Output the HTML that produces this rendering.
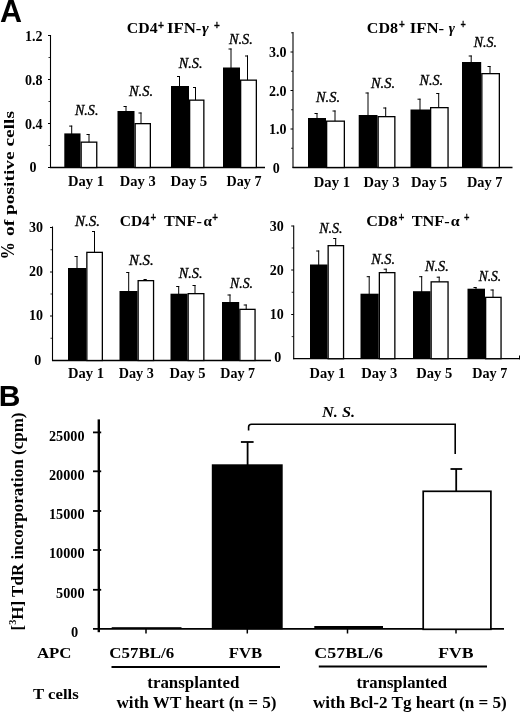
<!DOCTYPE html>
<html lang="en"><head><meta charset="utf-8"><title>Figure</title>
<style>html,body{margin:0;padding:0;background:#fff}body{width:520px;height:713px;overflow:hidden}svg{display:block;filter:grayscale(1)}</style>
</head><body>
<svg width="520" height="713" viewBox="0 0 520 713" font-family='"Liberation Serif", serif' fill="#000">
<rect width="520" height="713" fill="#fff"/>
<text x="0" y="21.8" font-family='"Liberation Sans", sans-serif' font-size="30.5" font-weight="bold">A</text>
<text x="-1.3" y="406" font-family='"Liberation Sans", sans-serif' font-size="30" font-weight="bold">B</text>
<text transform="translate(14.2,259.6) rotate(-90)" font-size="18.5" font-weight="bold" textLength="17.5" lengthAdjust="spacingAndGlyphs">%</text>
<text transform="translate(14.3,236) rotate(-90)" font-size="15" font-weight="bold" textLength="125" lengthAdjust="spacingAndGlyphs">of positive cells</text>
<text transform="translate(22.6,630.5) rotate(-90)" font-size="17.5" font-weight="bold" textLength="218" lengthAdjust="spacingAndGlyphs">[<tspan font-size="10.5" dy="-7">3</tspan><tspan dy="7">H] TdR incorporation (cpm)</tspan></text>
<line x1="50.5" y1="35.0" x2="50.5" y2="168.0" stroke="#000" stroke-width="1.1"/>
<line x1="50.0" y1="167.5" x2="265" y2="167.5" stroke="#000" stroke-width="1.3"/>
<line x1="48.0" y1="35.5" x2="50.5" y2="35.5" stroke="#000" stroke-width="1"/>
<line x1="48.0" y1="79.5" x2="50.5" y2="79.5" stroke="#000" stroke-width="1"/>
<line x1="48.0" y1="123.5" x2="50.5" y2="123.5" stroke="#000" stroke-width="1"/>
<line x1="48.0" y1="167.5" x2="50.5" y2="167.5" stroke="#000" stroke-width="1"/>
<line x1="48.5" y1="57.5" x2="50.5" y2="57.5" stroke="#000" stroke-width="0.8"/>
<line x1="48.5" y1="101.5" x2="50.5" y2="101.5" stroke="#000" stroke-width="0.8"/>
<line x1="48.5" y1="145.5" x2="50.5" y2="145.5" stroke="#000" stroke-width="0.8"/>
<text x="42.4" y="41.3" font-size="14" font-weight="bold" font-style="normal" text-anchor="end" >1.2</text>
<text x="42.4" y="85.4" font-size="14" font-weight="bold" font-style="normal" text-anchor="end" >0.8</text>
<text x="42.4" y="129" font-size="14" font-weight="bold" font-style="normal" text-anchor="end" >0.4</text>
<text x="33" y="172" font-size="14" font-weight="bold" font-style="normal" text-anchor="middle" >0</text>
<line x1="71.7" y1="125.6" x2="71.7" y2="134.4" stroke="#000" stroke-width="1"/>
<line x1="69.2" y1="126.1" x2="72.2" y2="126.1" stroke="#000" stroke-width="1"/>
<rect x="64.3" y="133.4" width="16.200000000000003" height="34.099999999999994" fill="#000"/>
<line x1="89" y1="134" x2="89" y2="142.5" stroke="#000" stroke-width="1"/>
<line x1="86.5" y1="134.5" x2="89.5" y2="134.5" stroke="#000" stroke-width="1"/>
<rect x="81.15" y="142.15" width="15.600000000000005" height="25.35" fill="#fff" stroke="#000" stroke-width="1.3"/>
<line x1="126" y1="106" x2="126" y2="112" stroke="#000" stroke-width="1"/>
<line x1="123.5" y1="106.5" x2="126.5" y2="106.5" stroke="#000" stroke-width="1"/>
<rect x="117.5" y="111" width="17.0" height="56.5" fill="#000"/>
<line x1="141" y1="112.5" x2="141" y2="124" stroke="#000" stroke-width="1"/>
<line x1="138.5" y1="113.0" x2="141.5" y2="113.0" stroke="#000" stroke-width="1"/>
<rect x="135.15" y="123.65" width="15.2" height="43.85" fill="#fff" stroke="#000" stroke-width="1.3"/>
<line x1="179.5" y1="76" x2="179.5" y2="87" stroke="#000" stroke-width="1"/>
<line x1="177.0" y1="76.5" x2="180.0" y2="76.5" stroke="#000" stroke-width="1"/>
<rect x="171" y="86" width="18" height="81.5" fill="#000"/>
<line x1="195.5" y1="87" x2="195.5" y2="100.5" stroke="#000" stroke-width="1"/>
<line x1="193.0" y1="87.5" x2="196.0" y2="87.5" stroke="#000" stroke-width="1"/>
<rect x="189.65" y="100.15" width="14.2" height="67.35" fill="#fff" stroke="#000" stroke-width="1.3"/>
<line x1="231" y1="48.5" x2="231" y2="68.5" stroke="#000" stroke-width="1"/>
<line x1="228.5" y1="49.0" x2="231.5" y2="49.0" stroke="#000" stroke-width="1"/>
<rect x="223" y="67.5" width="17" height="100.0" fill="#000"/>
<line x1="247.5" y1="55.5" x2="247.5" y2="80.5" stroke="#000" stroke-width="1"/>
<line x1="245.0" y1="56.0" x2="248.0" y2="56.0" stroke="#000" stroke-width="1"/>
<rect x="240.65" y="80.15" width="15.7" height="87.35" fill="#fff" stroke="#000" stroke-width="1.3"/>
<text x="75" y="114.5" font-size="14" font-weight="normal" font-style="italic" text-anchor="start" textLength="23.4" lengthAdjust="spacingAndGlyphs" stroke="#000" stroke-width="0.35">N.S.</text>
<text x="129" y="96.2" font-size="14" font-weight="normal" font-style="italic" text-anchor="start" textLength="24" lengthAdjust="spacingAndGlyphs" stroke="#000" stroke-width="0.35">N.S.</text>
<text x="178.7" y="68" font-size="14" font-weight="normal" font-style="italic" text-anchor="start" textLength="23.8" lengthAdjust="spacingAndGlyphs" stroke="#000" stroke-width="0.35">N.S.</text>
<text x="229" y="44.2" font-size="14" font-weight="normal" font-style="italic" text-anchor="start" textLength="23.8" lengthAdjust="spacingAndGlyphs" stroke="#000" stroke-width="0.35">N.S.</text>
<text x="68" y="186" font-size="14" font-weight="bold" font-style="normal" text-anchor="start" textLength="36" lengthAdjust="spacingAndGlyphs" >Day 1</text>
<text x="119.8" y="186" font-size="14" font-weight="bold" font-style="normal" text-anchor="start" textLength="35.9" lengthAdjust="spacingAndGlyphs" >Day 3</text>
<text x="170.6" y="186" font-size="14" font-weight="bold" font-style="normal" text-anchor="start" textLength="36.6" lengthAdjust="spacingAndGlyphs" >Day 5</text>
<text x="226.6" y="186" font-size="14" font-weight="bold" font-style="normal" text-anchor="start" textLength="34.9" lengthAdjust="spacingAndGlyphs" >Day 7</text>
<text x="126.8" y="33.1" font-size="15.5" font-weight="bold" textLength="30.8" lengthAdjust="spacingAndGlyphs">CD4</text>
<text x="158" y="28.5" font-size="12.5" font-weight="bold" stroke="#000" stroke-width="0.45" textLength="6" lengthAdjust="spacingAndGlyphs">+</text>
<text x="166.9" y="33.1" font-size="15.5" font-weight="bold" textLength="34.5" lengthAdjust="spacingAndGlyphs">IFN-</text>
<text x="202" y="33.1" font-size="15.5" font-weight="bold" font-style="italic" textLength="6.8" lengthAdjust="spacingAndGlyphs">γ</text>
<text x="214" y="28.5" font-size="12.5" font-weight="bold" stroke="#000" stroke-width="0.45" textLength="5.8" lengthAdjust="spacingAndGlyphs">+</text>
<line x1="293" y1="32.0" x2="293" y2="168.0" stroke="#000" stroke-width="1.1"/>
<line x1="292.5" y1="167.5" x2="512.5" y2="167.5" stroke="#000" stroke-width="1.3"/>
<line x1="290.5" y1="52" x2="293" y2="52" stroke="#000" stroke-width="1"/>
<line x1="290.5" y1="90.5" x2="293" y2="90.5" stroke="#000" stroke-width="1"/>
<line x1="290.5" y1="129" x2="293" y2="129" stroke="#000" stroke-width="1"/>
<line x1="291" y1="71.25" x2="293" y2="71.25" stroke="#000" stroke-width="0.8"/>
<line x1="291" y1="109.75" x2="293" y2="109.75" stroke="#000" stroke-width="0.8"/>
<line x1="291" y1="148.25" x2="293" y2="148.25" stroke="#000" stroke-width="0.8"/>
<line x1="291" y1="32.8" x2="293" y2="32.8" stroke="#000" stroke-width="0.8"/>
<text x="286.4" y="57.2" font-size="14" font-weight="bold" font-style="normal" text-anchor="end" >3.0</text>
<text x="286.4" y="95.7" font-size="14" font-weight="bold" font-style="normal" text-anchor="end" >2.0</text>
<text x="286.4" y="133.7" font-size="14" font-weight="bold" font-style="normal" text-anchor="end" >1.0</text>
<text x="276.2" y="172.6" font-size="14" font-weight="bold" font-style="normal" text-anchor="middle" >0</text>
<line x1="317" y1="113" x2="317" y2="119" stroke="#000" stroke-width="1"/>
<line x1="314.5" y1="113.5" x2="317.5" y2="113.5" stroke="#000" stroke-width="1"/>
<rect x="308" y="118" width="18" height="49.5" fill="#000"/>
<line x1="335" y1="110.5" x2="335" y2="121.5" stroke="#000" stroke-width="1"/>
<line x1="332.5" y1="111.0" x2="335.5" y2="111.0" stroke="#000" stroke-width="1"/>
<rect x="326.65" y="121.15" width="17.7" height="46.35" fill="#fff" stroke="#000" stroke-width="1.3"/>
<line x1="368" y1="92.5" x2="368" y2="116" stroke="#000" stroke-width="1"/>
<line x1="365.5" y1="93.0" x2="368.5" y2="93.0" stroke="#000" stroke-width="1"/>
<rect x="358.7" y="115" width="18.80000000000001" height="52.5" fill="#000"/>
<line x1="385.7" y1="107.5" x2="385.7" y2="117" stroke="#000" stroke-width="1"/>
<line x1="383.2" y1="108.0" x2="386.2" y2="108.0" stroke="#000" stroke-width="1"/>
<rect x="378.15" y="116.65" width="16.7" height="50.85" fill="#fff" stroke="#000" stroke-width="1.3"/>
<line x1="420" y1="98.7" x2="420" y2="110.5" stroke="#000" stroke-width="1"/>
<line x1="417.5" y1="99.2" x2="420.5" y2="99.2" stroke="#000" stroke-width="1"/>
<rect x="410.5" y="109.5" width="19.5" height="58.0" fill="#000"/>
<line x1="438.7" y1="93" x2="438.7" y2="108" stroke="#000" stroke-width="1"/>
<line x1="436.2" y1="93.5" x2="439.2" y2="93.5" stroke="#000" stroke-width="1"/>
<rect x="430.65" y="107.65" width="17.399999999999988" height="59.85" fill="#fff" stroke="#000" stroke-width="1.3"/>
<line x1="471.2" y1="55.5" x2="471.2" y2="63" stroke="#000" stroke-width="1"/>
<line x1="468.7" y1="56.0" x2="471.7" y2="56.0" stroke="#000" stroke-width="1"/>
<rect x="462" y="62" width="19.19999999999999" height="105.5" fill="#000"/>
<line x1="490" y1="66" x2="490" y2="74" stroke="#000" stroke-width="1"/>
<line x1="487.5" y1="66.5" x2="490.5" y2="66.5" stroke="#000" stroke-width="1"/>
<rect x="481.84999999999997" y="73.65" width="17.50000000000001" height="93.85" fill="#fff" stroke="#000" stroke-width="1.3"/>
<text x="316" y="102" font-size="14" font-weight="normal" font-style="italic" text-anchor="start" textLength="24" lengthAdjust="spacingAndGlyphs" stroke="#000" stroke-width="0.35">N.S.</text>
<text x="371" y="88" font-size="14" font-weight="normal" font-style="italic" text-anchor="start" textLength="24" lengthAdjust="spacingAndGlyphs" stroke="#000" stroke-width="0.35">N.S.</text>
<text x="419.5" y="84.5" font-size="14" font-weight="normal" font-style="italic" text-anchor="start" textLength="23.5" lengthAdjust="spacingAndGlyphs" stroke="#000" stroke-width="0.35">N.S.</text>
<text x="473.7" y="47" font-size="14" font-weight="normal" font-style="italic" text-anchor="start" textLength="23.3" lengthAdjust="spacingAndGlyphs" stroke="#000" stroke-width="0.35">N.S.</text>
<text x="313.8" y="187" font-size="14" font-weight="bold" font-style="normal" text-anchor="start" textLength="36.2" lengthAdjust="spacingAndGlyphs" >Day 1</text>
<text x="363.5" y="187" font-size="14" font-weight="bold" font-style="normal" text-anchor="start" textLength="35.9" lengthAdjust="spacingAndGlyphs" >Day 3</text>
<text x="411" y="187" font-size="14" font-weight="bold" font-style="normal" text-anchor="start" textLength="36.2" lengthAdjust="spacingAndGlyphs" >Day 5</text>
<text x="467" y="187" font-size="14" font-weight="bold" font-style="normal" text-anchor="start" textLength="35.5" lengthAdjust="spacingAndGlyphs" >Day 7</text>
<text x="366.8" y="32.5" font-size="15.5" font-weight="bold" textLength="31.2" lengthAdjust="spacingAndGlyphs">CD8</text>
<text x="399" y="27.9" font-size="12.5" font-weight="bold" stroke="#000" stroke-width="0.45" textLength="5.8" lengthAdjust="spacingAndGlyphs">+</text>
<text x="409.7" y="32.5" font-size="15.5" font-weight="bold" textLength="34.4" lengthAdjust="spacingAndGlyphs">IFN-</text>
<text x="448.8" y="32.5" font-size="15.5" font-weight="bold" font-style="italic" textLength="6.2" lengthAdjust="spacingAndGlyphs">γ</text>
<text x="460.4" y="27.9" font-size="12.5" font-weight="bold" stroke="#000" stroke-width="0.45" textLength="5.3" lengthAdjust="spacingAndGlyphs">+</text>
<line x1="52.5" y1="226.5" x2="52.5" y2="361.0" stroke="#000" stroke-width="1.1"/>
<line x1="52.0" y1="360.5" x2="271" y2="360.5" stroke="#000" stroke-width="1.3"/>
<line x1="50.0" y1="227.5" x2="52.5" y2="227.5" stroke="#000" stroke-width="1"/>
<line x1="50.0" y1="272" x2="52.5" y2="272" stroke="#000" stroke-width="1"/>
<line x1="50.0" y1="316" x2="52.5" y2="316" stroke="#000" stroke-width="1"/>
<line x1="50.5" y1="249.75" x2="52.5" y2="249.75" stroke="#000" stroke-width="0.8"/>
<line x1="50.5" y1="294.0" x2="52.5" y2="294.0" stroke="#000" stroke-width="0.8"/>
<line x1="50.5" y1="338.25" x2="52.5" y2="338.25" stroke="#000" stroke-width="0.8"/>
<text x="43" y="232" font-size="14" font-weight="bold" font-style="normal" text-anchor="end" >30</text>
<text x="43" y="276.3" font-size="14" font-weight="bold" font-style="normal" text-anchor="end" >20</text>
<text x="43" y="320.4" font-size="14" font-weight="bold" font-style="normal" text-anchor="end" >10</text>
<text x="37.7" y="365" font-size="14" font-weight="bold" font-style="normal" text-anchor="middle" >0</text>
<line x1="77" y1="256" x2="77" y2="269" stroke="#000" stroke-width="1"/>
<line x1="74.5" y1="256.5" x2="77.5" y2="256.5" stroke="#000" stroke-width="1"/>
<rect x="68" y="268" width="18.200000000000003" height="92.5" fill="#000"/>
<line x1="94.5" y1="231" x2="94.5" y2="252.7" stroke="#000" stroke-width="1"/>
<line x1="92.0" y1="231.5" x2="95.0" y2="231.5" stroke="#000" stroke-width="1"/>
<rect x="86.85000000000001" y="252.35" width="15.499999999999996" height="108.15" fill="#fff" stroke="#000" stroke-width="1.3"/>
<line x1="128.7" y1="272" x2="128.7" y2="292" stroke="#000" stroke-width="1"/>
<line x1="126.19999999999999" y1="272.5" x2="129.2" y2="272.5" stroke="#000" stroke-width="1"/>
<rect x="119.5" y="291" width="18.0" height="69.5" fill="#000"/>
<line x1="146" y1="279" x2="146" y2="281" stroke="#000" stroke-width="1"/>
<line x1="143.5" y1="279.5" x2="146.5" y2="279.5" stroke="#000" stroke-width="1"/>
<rect x="138.15" y="280.65" width="15.399999999999988" height="79.85" fill="#fff" stroke="#000" stroke-width="1.3"/>
<line x1="178.7" y1="286" x2="178.7" y2="294.7" stroke="#000" stroke-width="1"/>
<line x1="176.2" y1="286.5" x2="179.2" y2="286.5" stroke="#000" stroke-width="1"/>
<rect x="170.5" y="293.7" width="17.0" height="66.80000000000001" fill="#000"/>
<line x1="195" y1="285" x2="195" y2="294" stroke="#000" stroke-width="1"/>
<line x1="192.5" y1="285.5" x2="195.5" y2="285.5" stroke="#000" stroke-width="1"/>
<rect x="188.15" y="293.65" width="15.7" height="66.85" fill="#fff" stroke="#000" stroke-width="1.3"/>
<line x1="230" y1="294.5" x2="230" y2="303" stroke="#000" stroke-width="1"/>
<line x1="227.5" y1="295.0" x2="230.5" y2="295.0" stroke="#000" stroke-width="1"/>
<rect x="222" y="302" width="17.19999999999999" height="58.5" fill="#000"/>
<line x1="246.2" y1="304.5" x2="246.2" y2="309.7" stroke="#000" stroke-width="1"/>
<line x1="243.7" y1="305.0" x2="246.7" y2="305.0" stroke="#000" stroke-width="1"/>
<rect x="239.85" y="309.34999999999997" width="15.2" height="51.15000000000001" fill="#fff" stroke="#000" stroke-width="1.3"/>
<text x="75" y="226" font-size="14" font-weight="normal" font-style="italic" text-anchor="start" textLength="25" lengthAdjust="spacingAndGlyphs" stroke="#000" stroke-width="0.35">N.S.</text>
<text x="129" y="265" font-size="14" font-weight="normal" font-style="italic" text-anchor="start" textLength="24.7" lengthAdjust="spacingAndGlyphs" stroke="#000" stroke-width="0.35">N.S.</text>
<text x="178.7" y="277.5" font-size="14" font-weight="normal" font-style="italic" text-anchor="start" textLength="23.8" lengthAdjust="spacingAndGlyphs" stroke="#000" stroke-width="0.35">N.S.</text>
<text x="230" y="288" font-size="14" font-weight="normal" font-style="italic" text-anchor="start" textLength="23" lengthAdjust="spacingAndGlyphs" stroke="#000" stroke-width="0.35">N.S.</text>
<text x="68" y="377.6" font-size="14" font-weight="bold" font-style="normal" text-anchor="start" textLength="36" lengthAdjust="spacingAndGlyphs" >Day 1</text>
<text x="118.7" y="377.6" font-size="14" font-weight="bold" font-style="normal" text-anchor="start" textLength="35.1" lengthAdjust="spacingAndGlyphs" >Day 3</text>
<text x="169.5" y="377.6" font-size="14" font-weight="bold" font-style="normal" text-anchor="start" textLength="36.0" lengthAdjust="spacingAndGlyphs" >Day 5</text>
<text x="220.3" y="377.6" font-size="14" font-weight="bold" font-style="normal" text-anchor="start" textLength="34.7" lengthAdjust="spacingAndGlyphs" >Day 7</text>
<text x="119.7" y="226" font-size="15.5" font-weight="bold" textLength="30.2" lengthAdjust="spacingAndGlyphs">CD4</text>
<text x="150.5" y="221.4" font-size="12.5" font-weight="bold" stroke="#000" stroke-width="0.45" textLength="5.7" lengthAdjust="spacingAndGlyphs">+</text>
<text x="164" y="226" font-size="15.5" font-weight="bold" textLength="38" lengthAdjust="spacingAndGlyphs">TNF-</text>
<text x="203.4" y="226" font-size="15.5" font-weight="bold" textLength="8.4" lengthAdjust="spacingAndGlyphs">α</text>
<text x="212.3" y="221.4" font-size="12.5" font-weight="bold" stroke="#000" stroke-width="0.45" textLength="5.7" lengthAdjust="spacingAndGlyphs">+</text>
<line x1="293.7" y1="225.5" x2="293.7" y2="359.2" stroke="#000" stroke-width="1.1"/>
<line x1="293.2" y1="358.7" x2="520" y2="358.7" stroke="#000" stroke-width="1.3"/>
<line x1="291.2" y1="226" x2="293.7" y2="226" stroke="#000" stroke-width="1"/>
<line x1="291.2" y1="270" x2="293.7" y2="270" stroke="#000" stroke-width="1"/>
<line x1="291.2" y1="314.5" x2="293.7" y2="314.5" stroke="#000" stroke-width="1"/>
<line x1="291.7" y1="248.0" x2="293.7" y2="248.0" stroke="#000" stroke-width="0.8"/>
<line x1="291.7" y1="292.25" x2="293.7" y2="292.25" stroke="#000" stroke-width="0.8"/>
<line x1="291.7" y1="336.6" x2="293.7" y2="336.6" stroke="#000" stroke-width="0.8"/>
<text x="283.8" y="230.7" font-size="14" font-weight="bold" font-style="normal" text-anchor="end" >30</text>
<text x="283.8" y="274.8" font-size="14" font-weight="bold" font-style="normal" text-anchor="end" >20</text>
<text x="283.8" y="319" font-size="14" font-weight="bold" font-style="normal" text-anchor="end" >10</text>
<text x="277.8" y="362.3" font-size="14" font-weight="bold" font-style="normal" text-anchor="middle" >0</text>
<line x1="318.7" y1="250.5" x2="318.7" y2="265.5" stroke="#000" stroke-width="1"/>
<line x1="316.2" y1="251.0" x2="319.2" y2="251.0" stroke="#000" stroke-width="1"/>
<rect x="310" y="264.5" width="17.5" height="94.19999999999999" fill="#000"/>
<line x1="335.7" y1="238" x2="335.7" y2="246" stroke="#000" stroke-width="1"/>
<line x1="333.2" y1="238.5" x2="336.2" y2="238.5" stroke="#000" stroke-width="1"/>
<rect x="328.15" y="245.65" width="15.399999999999988" height="113.04999999999998" fill="#fff" stroke="#000" stroke-width="1.3"/>
<line x1="369.2" y1="276.2" x2="369.2" y2="294.7" stroke="#000" stroke-width="1"/>
<line x1="366.7" y1="276.7" x2="369.7" y2="276.7" stroke="#000" stroke-width="1"/>
<rect x="360.5" y="293.7" width="18.19999999999999" height="65.0" fill="#000"/>
<line x1="386.2" y1="268.7" x2="386.2" y2="273" stroke="#000" stroke-width="1"/>
<line x1="383.7" y1="269.2" x2="386.7" y2="269.2" stroke="#000" stroke-width="1"/>
<rect x="379.34999999999997" y="272.65" width="15.50000000000001" height="86.04999999999998" fill="#fff" stroke="#000" stroke-width="1.3"/>
<line x1="421.7" y1="276.2" x2="421.7" y2="292.2" stroke="#000" stroke-width="1"/>
<line x1="419.2" y1="276.7" x2="422.2" y2="276.7" stroke="#000" stroke-width="1"/>
<rect x="413" y="291.2" width="17.5" height="67.5" fill="#000"/>
<line x1="439.2" y1="276.7" x2="439.2" y2="282.2" stroke="#000" stroke-width="1"/>
<line x1="436.7" y1="277.2" x2="439.7" y2="277.2" stroke="#000" stroke-width="1"/>
<rect x="431.15" y="281.84999999999997" width="16.899999999999988" height="76.85" fill="#fff" stroke="#000" stroke-width="1.3"/>
<line x1="476" y1="287" x2="476" y2="289.7" stroke="#000" stroke-width="1"/>
<line x1="473.5" y1="287.5" x2="476.5" y2="287.5" stroke="#000" stroke-width="1"/>
<rect x="467.5" y="288.7" width="17.5" height="70.0" fill="#000"/>
<line x1="493" y1="289.5" x2="493" y2="297.7" stroke="#000" stroke-width="1"/>
<line x1="490.5" y1="290.0" x2="493.5" y2="290.0" stroke="#000" stroke-width="1"/>
<rect x="485.65" y="297.34999999999997" width="15.399999999999988" height="61.35" fill="#fff" stroke="#000" stroke-width="1.3"/>
<text x="319.2" y="233" font-size="14" font-weight="normal" font-style="italic" text-anchor="start" textLength="23.3" lengthAdjust="spacingAndGlyphs" stroke="#000" stroke-width="0.35">N.S.</text>
<text x="371.2" y="263.7" font-size="14" font-weight="normal" font-style="italic" text-anchor="start" textLength="23.8" lengthAdjust="spacingAndGlyphs" stroke="#000" stroke-width="0.35">N.S.</text>
<text x="425" y="270.5" font-size="14" font-weight="normal" font-style="italic" text-anchor="start" textLength="23.7" lengthAdjust="spacingAndGlyphs" stroke="#000" stroke-width="0.35">N.S.</text>
<text x="478.7" y="280.5" font-size="14" font-weight="normal" font-style="italic" text-anchor="start" textLength="22.5" lengthAdjust="spacingAndGlyphs" stroke="#000" stroke-width="0.35">N.S.</text>
<text x="309.5" y="377.6" font-size="14" font-weight="bold" font-style="normal" text-anchor="start" textLength="35.8" lengthAdjust="spacingAndGlyphs" >Day 1</text>
<text x="361.3" y="377.6" font-size="14" font-weight="bold" font-style="normal" text-anchor="start" textLength="36.0" lengthAdjust="spacingAndGlyphs" >Day 3</text>
<text x="416.3" y="377.6" font-size="14" font-weight="bold" font-style="normal" text-anchor="start" textLength="36.0" lengthAdjust="spacingAndGlyphs" >Day 5</text>
<text x="472.2" y="377.6" font-size="14" font-weight="bold" font-style="normal" text-anchor="start" textLength="35.1" lengthAdjust="spacingAndGlyphs" >Day 7</text>
<text x="366.2" y="226" font-size="15.5" font-weight="bold" textLength="31.3" lengthAdjust="spacingAndGlyphs">CD8</text>
<text x="398.4" y="221.4" font-size="12.5" font-weight="bold" stroke="#000" stroke-width="0.45" textLength="5.9" lengthAdjust="spacingAndGlyphs">+</text>
<text x="411.7" y="226" font-size="15.5" font-weight="bold" textLength="38.0" lengthAdjust="spacingAndGlyphs">TNF-</text>
<text x="450.8" y="226" font-size="15.5" font-weight="bold" textLength="8.9" lengthAdjust="spacingAndGlyphs">α</text>
<text x="463.9" y="221.4" font-size="12.5" font-weight="bold" stroke="#000" stroke-width="0.45" textLength="5.5" lengthAdjust="spacingAndGlyphs">+</text>
<line x1="519.5" y1="355.5" x2="519.5" y2="359.3" stroke="#000" stroke-width="1"/>
<line x1="98.8" y1="419.4" x2="98.8" y2="632.2" stroke="#000" stroke-width="2.4"/>
<line x1="93" y1="628.9" x2="504" y2="628.9" stroke="#000" stroke-width="1.9"/>
<line x1="93" y1="432.4" x2="101.2" y2="432.4" stroke="#000" stroke-width="1.8"/>
<text x="84.5" y="440.7" font-size="14.4" font-weight="bold" font-style="normal" text-anchor="end" textLength="35.5" lengthAdjust="spacingAndGlyphs" >25000</text>
<line x1="93" y1="471.3" x2="101.2" y2="471.3" stroke="#000" stroke-width="1.8"/>
<text x="84.5" y="479.6" font-size="14.4" font-weight="bold" font-style="normal" text-anchor="end" textLength="35.5" lengthAdjust="spacingAndGlyphs" >20000</text>
<line x1="93" y1="511" x2="101.2" y2="511" stroke="#000" stroke-width="1.8"/>
<text x="84.5" y="519.3" font-size="14.4" font-weight="bold" font-style="normal" text-anchor="end" textLength="35.5" lengthAdjust="spacingAndGlyphs" >15000</text>
<line x1="93" y1="550" x2="101.2" y2="550" stroke="#000" stroke-width="1.8"/>
<text x="84.5" y="558.3" font-size="14.4" font-weight="bold" font-style="normal" text-anchor="end" textLength="35.5" lengthAdjust="spacingAndGlyphs" >10000</text>
<line x1="93" y1="589.8" x2="101.2" y2="589.8" stroke="#000" stroke-width="1.8"/>
<text x="84.5" y="598.0999999999999" font-size="14.4" font-weight="bold" font-style="normal" text-anchor="end" textLength="28.4" lengthAdjust="spacingAndGlyphs" >5000</text>
<text x="74.5" y="637.4" font-size="14.4" font-weight="bold" font-style="normal" text-anchor="middle" >0</text>
<line x1="146" y1="629" x2="146" y2="633.5" stroke="#000" stroke-width="1.5"/>
<line x1="247.3" y1="629" x2="247.3" y2="633.5" stroke="#000" stroke-width="1.5"/>
<line x1="347.5" y1="629" x2="347.5" y2="633.5" stroke="#000" stroke-width="1.5"/>
<line x1="456" y1="629" x2="456" y2="633.5" stroke="#000" stroke-width="1.5"/>
<rect x="111.7" y="627.2" width="69.8" height="1.6" fill="#000"/>
<rect x="211.8" y="464.3" width="70.9" height="165" fill="#000"/>
<rect x="314.3" y="626" width="68.7" height="3" fill="#000"/>
<rect x="423.2" y="491.3" width="67.7" height="138" fill="#fff" stroke="#000" stroke-width="1.7"/>
<line x1="247.6" y1="442" x2="247.6" y2="465" stroke="#000" stroke-width="1.8"/>
<line x1="240.9" y1="442" x2="253.6" y2="442" stroke="#000" stroke-width="1.8"/>
<line x1="456.2" y1="469" x2="456.2" y2="491" stroke="#000" stroke-width="1.8"/>
<line x1="450.5" y1="469" x2="462.2" y2="469" stroke="#000" stroke-width="1.8"/>
<path d="M248.6 430.5 V427 Q248.6 424.3 251.5 424.3 H455.2 V454" fill="none" stroke="#000" stroke-width="1.6"/>
<text x="322" y="416.8" font-size="14" font-weight="bold" font-style="italic" text-anchor="start" textLength="33" lengthAdjust="spacingAndGlyphs" >N. S.</text>
<text x="36.9" y="657.7" font-size="15.5" font-weight="bold" font-style="normal" text-anchor="start" textLength="34.6" lengthAdjust="spacingAndGlyphs" >APC</text>
<text x="33.1" y="699" font-size="15.5" font-weight="bold" font-style="normal" text-anchor="start" textLength="45.6" lengthAdjust="spacingAndGlyphs" >T cells</text>
<text x="109.3" y="657.6" font-size="15.5" font-weight="bold" font-style="normal" text-anchor="start" textLength="64.8" lengthAdjust="spacingAndGlyphs" >C57BL/6</text>
<text x="228.8" y="657.6" font-size="15.5" font-weight="bold" font-style="normal" text-anchor="start" textLength="33.5" lengthAdjust="spacingAndGlyphs" >FVB</text>
<text x="314.3" y="657.6" font-size="15.5" font-weight="bold" font-style="normal" text-anchor="start" textLength="68.7" lengthAdjust="spacingAndGlyphs" >C57BL/6</text>
<text x="438.2" y="657.6" font-size="15.5" font-weight="bold" font-style="normal" text-anchor="start" textLength="35.4" lengthAdjust="spacingAndGlyphs" >FVB</text>
<line x1="111.5" y1="667" x2="280" y2="667" stroke="#000" stroke-width="2.2"/>
<line x1="318.8" y1="666.5" x2="487" y2="666.5" stroke="#000" stroke-width="2.0"/>
<text x="147.3" y="688.3" font-size="16" font-weight="bold" font-style="normal" text-anchor="start" textLength="92" lengthAdjust="spacingAndGlyphs" >transplanted</text>
<text x="116.5" y="707.8" font-size="16" font-weight="bold" font-style="normal" text-anchor="start" textLength="160" lengthAdjust="spacingAndGlyphs" >with WT heart (n = 5)</text>
<text x="356.4" y="687.5" font-size="16" font-weight="bold" font-style="normal" text-anchor="start" textLength="90.6" lengthAdjust="spacingAndGlyphs" >transplanted</text>
<text x="313" y="707.6" font-size="16" font-weight="bold" font-style="normal" text-anchor="start" textLength="193.8" lengthAdjust="spacingAndGlyphs" >with Bcl-2 Tg heart (n = 5)</text>
</svg>
</body></html>
